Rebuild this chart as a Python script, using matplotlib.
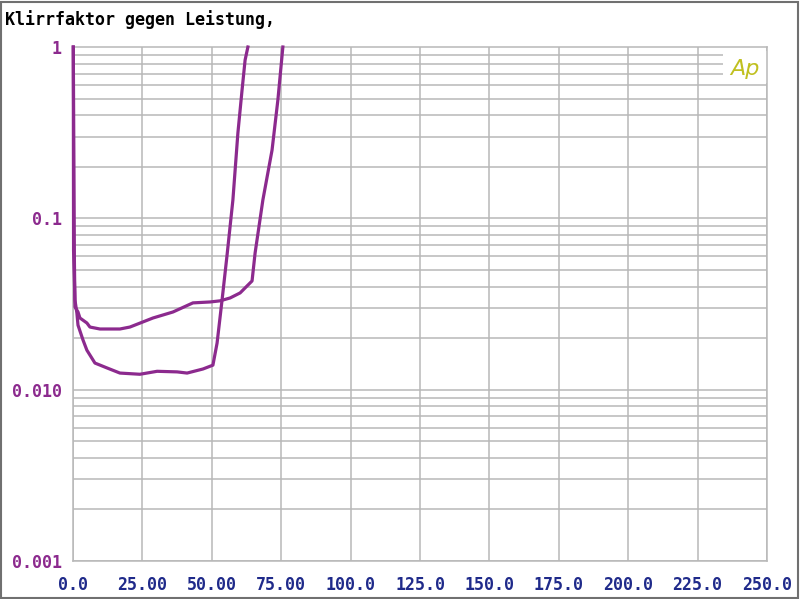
import numpy as np
import matplotlib.pyplot as plt
from matplotlib.patches import Rectangle

# Klirrfaktor (THD) gegen Leistung - zwei Kurven
p_a = [0.1, 0.3, 0.5, 0.72, 1.8, 2.5, 5.0, 6.1, 9.7, 16.9, 20.5, 28.8, 36.0, 43.2,
       49.4, 53.0, 56.6, 60.2, 64.5, 65.6, 68.4, 71.7, 73.8, 75.6]
thd_a = [1.0, 0.25, 0.057, 0.0304, 0.0284, 0.0262, 0.0245, 0.0232, 0.0226, 0.0226,
         0.0232, 0.0262, 0.0284, 0.0321, 0.0325, 0.033, 0.0343, 0.0367, 0.0431,
         0.0628, 0.128, 0.25, 0.49, 1.0]

p_b = [0.1, 0.2, 0.7, 1.4, 1.8, 3.6, 5.0, 7.9, 12.2, 16.9, 24.1, 30.3, 37.5, 41.1,
       46.8, 50.4, 51.9, 53.7, 55.5, 57.6, 59.4, 60.9, 62.0, 63.0]
thd_b = [1.0, 0.065, 0.0334, 0.028, 0.0238, 0.0195, 0.017, 0.0143, 0.0134, 0.0125,
         0.0123, 0.0128, 0.0127, 0.0125, 0.0132, 0.0139, 0.0187, 0.0334, 0.0611,
         0.128, 0.315, 0.561, 0.84, 1.0]

x_ticks = np.arange(0, 251, 25)
x_labels = ['0.0', '25.00', '50.00', '75.00', '100.0', '125.0', '150.0',
            '175.0', '200.0', '225.0', '250.0']
y_ticks = [0.001, 0.01, 0.1, 1]
y_labels = ['0.001', '0.010', '0.1', '1']

purple = '#8c2a8e'
navy = '#1f2a8a'
grid_c = '#b8b8b8'
mono = 'DejaVu Sans Mono'

fig = plt.figure(figsize=(8, 5.99), dpi=100)
ax = fig.add_axes([73 / 800, 1 - 561 / 599, 694 / 800, 514 / 599])

ax.set_yscale('log')
ax.set_xlim(0, 250)
ax.set_ylim(0.001, 1)

# Gitter
for xv in x_ticks:
    ax.axvline(xv, color=grid_c, lw=1.1, zorder=1)
for dec in [0.001, 0.01, 0.1]:
    for m in range(1, 10):
        ax.axhline(dec * m, color=grid_c, lw=1.1, zorder=1)

# weisses Feld fuer das Logo
ax.add_patch(Rectangle((234.3, 0.62), 15.6, 0.33, facecolor='white',
                       edgecolor='none', zorder=2))
ax.text(242.0, 0.74, 'Ap', color='#c0c020', fontsize=16, style='italic',
        ha='center', va='center', family='DejaVu Sans', zorder=3)

ax.plot(p_a, thd_a, color=purple, lw=2.3, zorder=4, clip_on=False)
ax.plot(p_b, thd_b, color=purple, lw=2.3, zorder=4, clip_on=False)

ax.set_xticks(x_ticks)
ax.set_xticklabels(x_labels)
ax.set_yticks(y_ticks)
ax.set_yticklabels(y_labels)
ax.minorticks_off()
ax.tick_params(length=0)
ax.tick_params(axis='x', pad=11)
ax.tick_params(axis='y', pad=8)
for t in ax.get_xticklabels():
    t.set_color(navy)
    t.set_fontfamily(mono)
    t.set_fontweight('bold')
    t.set_fontsize(12)
for t in ax.get_yticklabels():
    t.set_color(purple)
    t.set_fontfamily(mono)
    t.set_fontweight('bold')
    t.set_fontsize(12)

for s in ax.spines.values():
    s.set_color(grid_c)
    s.set_linewidth(1.1)

fig.text(5 / 800, 1 - 20 / 599, 'Klirrfaktor gegen Leistung,', family=mono,
         fontsize=12, fontweight='bold', color='black', va='center', ha='left')

# Rahmen um das Bild
fig.patches.append(Rectangle((0.001, 0.002), 0.996, 0.994, transform=fig.transFigure,
                             fill=False, edgecolor='#707070', lw=1.5))

fig.savefig('out.png', dpi=100)
